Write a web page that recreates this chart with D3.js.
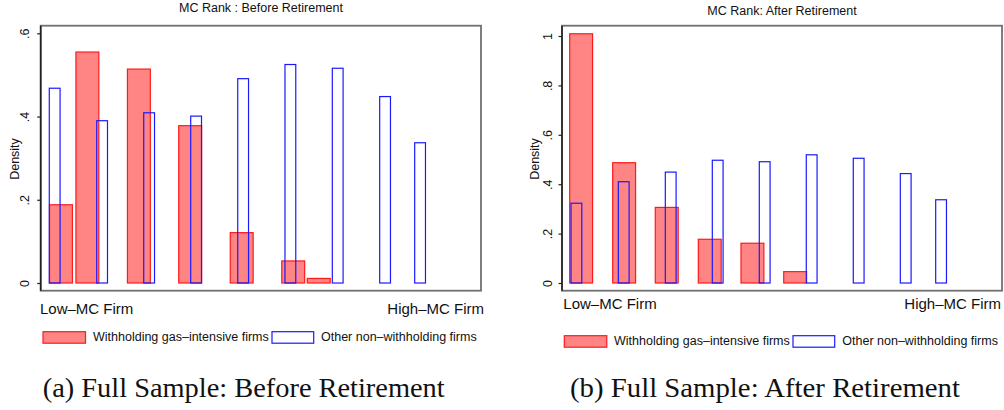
<!DOCTYPE html>
<html>
<head>
<meta charset="utf-8">
<script src="https://cdn.jsdelivr.net/npm/d3@7/dist/d3.min.js"></script>
<style>
  html, body { margin: 0; padding: 0; background: #fff; }
  svg { display: block; }
</style>
</head>
<body>
<div id="chart"></div>
<script>
// bar positions are in "MC rank" units along the x axis (0 = left edge, 100 = right edge)
const beforeRedStart = [2.0, 8.0, 19.7, 31.35, 43.05, 54.75, 60.55];
const beforeRedDensity = [0.188, 0.555, 0.514, 0.378, 0.121, 0.053, 0.011];
const beforeBlueStart = [1.95, 12.72, 23.4, 34.07, 44.75, 55.48, 66.23, 76.99, 84.94];
const beforeBlueDensity = [0.468, 0.390, 0.409, 0.401, 0.491, 0.525, 0.516, 0.448, 0.337];

const afterRedStart = [1.75, 11.52, 21.2, 30.98, 40.68, 50.39];
const afterRedDensity = [1.009, 0.487, 0.306, 0.177, 0.161, 0.046];
const afterBlueStart = [2.05, 12.8, 23.48, 34.16, 44.84, 55.52, 66.2, 76.89, 84.93];
const afterBlueDensity = [0.323, 0.410, 0.449, 0.497, 0.491, 0.519, 0.505, 0.443, 0.337];

const redBarWidth = 5.2;
const blueBarWidth = 2.45;

const beforeTicks = [0, 0.2, 0.4, 0.6];
const afterTicks = [0, 0.2, 0.4, 0.6, 0.8, 1];

const legendLabels = ["Withholding gas\u2013intensive firms", "Other non\u2013withholding firms"];
const xEndLabels = ["Low\u2013MC Firm", "High\u2013MC Firm"];

const W = 1004, H = 410;
const sans = "'Liberation Sans', Arial, Helvetica, sans-serif";

const svg = d3.select("#chart").append("svg")
  .attr("width", W).attr("height", H)
  .attr("viewBox", `0 0 ${W} ${H}`);

function fmtTick(v) {
  if (v === 0) return "0";
  if (v === 1) return "1";
  return String(v).replace(/^0/, "");
}

function drawPanel(p) {
  const g = svg.append("g");

  const x = d3.scaleLinear().domain([0, 100]).range([p.left, p.right]);
  const y = d3.scaleLinear().domain([0, p.yMax]).range([p.y0, p.yTop]);

  // frame
  g.append("rect")
    .attr("x", p.left).attr("y", p.top)
    .attr("width", p.right - p.left).attr("height", p.bottom - p.top)
    .attr("fill", "none").attr("stroke", "#707070").attr("stroke-width", 1.8);

  // red bars (filled, semi transparent)
  const red = p.redStart.map((s, i) => ({ s, v: p.redDensity[i] }));
  g.selectAll("rect.red").data(red).enter().append("rect")
    .attr("class", "red")
    .attr("x", d => x(d.s))
    .attr("y", d => y(d.v))
    .attr("width", d => x(d.s + redBarWidth) - x(d.s))
    .attr("height", d => y(0) - y(d.v))
    .attr("fill", "rgba(255,0,0,0.48)")
    .attr("stroke", "#ff1a1a")
    .attr("stroke-width", 1.2);

  // blue bars (outline only)
  const blue = p.blueStart.map((s, i) => ({ s, v: p.blueDensity[i] }));
  g.selectAll("rect.blue").data(blue).enter().append("rect")
    .attr("class", "blue")
    .attr("x", d => x(d.s))
    .attr("y", d => y(d.v))
    .attr("width", d => x(d.s + blueBarWidth) - x(d.s))
    .attr("height", d => y(0) - y(d.v))
    .attr("fill", "none")
    .attr("stroke", "#1a1aff")
    .attr("stroke-width", 1.2);

  // y axis
  const ax = g.append("g")
    .attr("transform", `translate(${p.left},0)`)
    .call(d3.axisLeft(y).tickValues(p.ticks).tickFormat(fmtTick).tickSize(3.5).tickSizeOuter(0));
  ax.select("path.domain").remove();
  ax.selectAll("line").attr("stroke", "#222").attr("stroke-width", 1.2);
  ax.selectAll("text")
    .attr("x", null).attr("dy", "0.35em")
    .attr("transform", `translate(${p.tickLabelOffset},0) rotate(-90)`)
    .attr("text-anchor", "middle")
    .attr("fill", "#111")
    .style("font-family", sans)
    .style("font-size", "12.5px");

  g.append("line")
    .attr("x1", p.left).attr("x2", p.left)
    .attr("y1", p.top).attr("y2", p.bottom)
    .attr("stroke", "#222").attr("stroke-width", 1.6);

  // y title
  g.append("text")
    .attr("transform", `translate(${p.left + p.yTitleOffset},${p.yTitleY}) rotate(-90)`)
    .attr("dy", "0.35em")
    .attr("text-anchor", "middle")
    .attr("fill", "#111")
    .style("font-family", sans).style("font-size", "12.5px")
    .text("Density");

  // panel title
  g.append("text")
    .attr("x", p.titleX).attr("y", p.titleY)
    .attr("text-anchor", "middle")
    .attr("fill", "#111")
    .style("font-family", sans).style("font-size", "12.5px")
    .text(p.title);

  // x end labels
  g.append("text")
    .attr("x", p.lowX).attr("y", p.xLabY)
    .attr("fill", "#111")
    .style("font-family", sans).style("font-size", "15px")
    .text(xEndLabels[0]);
  g.append("text")
    .attr("x", p.highX).attr("y", p.xLabY)
    .attr("text-anchor", "end")
    .attr("fill", "#111")
    .style("font-family", sans).style("font-size", "15px")
    .text(xEndLabels[1]);

  // legend
  const lg = g.append("g").attr("transform", `translate(0,${p.legY})`);
  lg.append("rect")
    .attr("x", p.leg[0]).attr("y", 0).attr("width", 42.5).attr("height", 11.5)
    .attr("fill", "rgba(255,0,0,0.48)").attr("stroke", "#ff1a1a").attr("stroke-width", 1.2);
  lg.append("text")
    .attr("x", p.leg[1]).attr("y", 9.5)
    .attr("fill", "#111")
    .style("font-family", sans).style("font-size", "12.5px")
    .text(legendLabels[0]);
  lg.append("rect")
    .attr("x", p.leg[2]).attr("y", 0).attr("width", 41.7).attr("height", 11.5)
    .attr("fill", "#fff").attr("stroke", "#1a1aff").attr("stroke-width", 1.2);
  lg.append("text")
    .attr("x", p.leg[3]).attr("y", 9.5)
    .attr("fill", "#111")
    .style("font-family", sans).style("font-size", "12.5px")
    .text(legendLabels[1]);

  // caption
  g.append("text")
    .attr("x", p.capX).attr("y", 396.5)
    .attr("textLength", p.capW).attr("lengthAdjust", "spacingAndGlyphs")
    .attr("fill", "#111")
    .style("font-family", "'Liberation Serif', 'DejaVu Serif', serif").style("font-size", "28px")
    .text(p.caption);
}

drawPanel({
  left: 40.7, right: 481, top: 25.7, bottom: 290.7,
  y0: 283, yTop: 33.3, yMax: 0.6, ticks: beforeTicks,
  tickLabelOffset: -15.7, yTitleOffset: -25.7, yTitleY: 159,
  redStart: beforeRedStart, redDensity: beforeRedDensity,
  blueStart: beforeBlueStart, blueDensity: beforeBlueDensity,
  title: "MC Rank : Before Retirement", titleX: 261, titleY: 11.7,
  lowX: 40, highX: 484, xLabY: 314,
  legY: 331.7, leg: [43, 93, 272, 321],
  caption: "(a) Full Sample: Before Retirement", capX: 42.7, capW: 402
});

drawPanel({
  left: 562, right: 1002, top: 25.7, bottom: 290.7,
  y0: 283, yTop: 36, yMax: 1, ticks: afterTicks,
  tickLabelOffset: -14.7, yTitleOffset: -27, yTitleY: 159,
  redStart: afterRedStart, redDensity: afterRedDensity,
  blueStart: afterBlueStart, blueDensity: afterBlueDensity,
  title: "MC Rank: After Retirement", titleX: 782, titleY: 14.5,
  lowX: 563.3, highX: 1001, xLabY: 309.3,
  legY: 335.7, leg: [564.3, 614, 793, 842.3],
  caption: "(b) Full Sample: After Retirement", capX: 570, capW: 390
});
</script>
</body>
</html>
